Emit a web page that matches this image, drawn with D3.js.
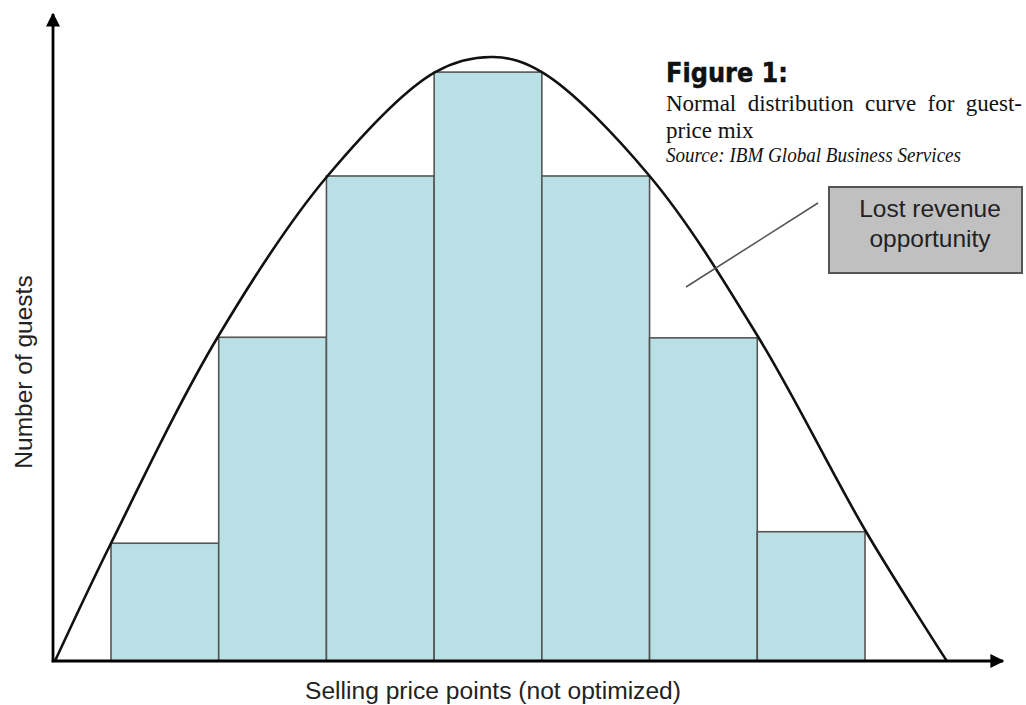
<!DOCTYPE html>
<html>
<head>
<meta charset="utf-8">
<script src="https://cdn.jsdelivr.net/npm/d3@7/dist/d3.min.js"></script>
<style>
  html, body { margin: 0; padding: 0; background: #fff; }
  svg { display: block; }
</style>
</head>
<body>
<svg id="chart" width="1026" height="705"></svg>
<script>
// ---- Data ----
const categories = ["P1", "P2", "P3", "P4", "P5", "P6", "P7"];      // selling price points
const guests     = [19.5, 53.6, 80.3, 97.5, 80.3, 53.5, 21.4];      // number of guests (relative)
// normal distribution curve (x in price-point units, y in guests)
const curveX = [-0.02, 0.50, 1.49, 2.51, 3.51, 4.05, 4.50, 5.50, 6.51, 7.51, 8.26];
const curveY = [0.0, 19.5, 53.6, 80.3, 97.5, 100, 97.5, 80.3, 53.6, 21.4, 0.0];
const xAxisLabel = "Selling price points (not optimized)";
const yAxisLabel = "Number of guests";
const titleBold = "Figure 1:";
const titleLines = ["Normal distribution curve for guest-", "price mix"];
const sourceText = "Source: IBM Global Business Services";
const calloutLines = ["Lost revenue", "opportunity"];

// ---- Layout ----
const svg = d3.select("#chart");
const x = d3.scaleLinear().domain([0.5, 7.5]).range([111, 865]);
const y = d3.scaleLinear().domain([0, 100]).range([661, 57]);
const originX = 53, originY = 661;

// defs: arrowheads
const defs = svg.append("defs");
defs.append("marker").attr("id", "arrow")
  .attr("viewBox", "0 0 10 10").attr("refX", 9).attr("refY", 5)
  .attr("markerWidth", 5).attr("markerHeight", 5).attr("markerUnits", "strokeWidth")
  .attr("orient", "auto")
  .append("path").attr("d", "M0,0 L10,5 L0,10 Z").attr("fill", "#000");

// bars
svg.append("g").selectAll("rect").data(guests).join("rect")
  .attr("x", (d, i) => x(i + 0.5))
  .attr("width", (d, i) => x(i + 1.5) - x(i + 0.5))
  .attr("y", d => y(d))
  .attr("height", d => y(0) - y(d))
  .attr("fill", "#b9e0e5")
  .attr("stroke", "#555")
  .attr("stroke-width", 1.6);

// curve
const pts = curveX.map((cx, i) => [cx, curveY[i]]);
svg.append("path")
  .datum(pts)
  .attr("d", d3.line().x(d => x(d[0])).y(d => y(d[1])).curve(d3.curveCatmullRom.alpha(0.5)))
  .attr("fill", "none")
  .attr("stroke", "#111")
  .attr("stroke-width", 2.6);

// axes
svg.append("line")
  .attr("x1", originX).attr("y1", originY + 1.3).attr("x2", originX).attr("y2", 14)
  .attr("stroke", "#000").attr("stroke-width", 2.8).attr("marker-end", "url(#arrow)");
svg.append("line")
  .attr("x1", originX - 1.3).attr("y1", originY).attr("x2", 1003).attr("y2", originY)
  .attr("stroke", "#000").attr("stroke-width", 2.8).attr("marker-end", "url(#arrow)");

// axis labels
svg.append("text")
  .attr("x", 493).attr("y", 699)
  .attr("text-anchor", "middle")
  .attr("font-family", "'Liberation Sans', Arial, sans-serif")
  .attr("font-size", 24.6)
  .attr("fill", "#222")
  .text(xAxisLabel);

svg.append("text")
  .attr("transform", "translate(32,372) rotate(-90)")
  .attr("text-anchor", "middle")
  .attr("font-family", "'Liberation Sans', Arial, sans-serif")
  .attr("font-size", 24.5)
  .attr("fill", "#222")
  .text(yAxisLabel);

// title block
svg.append("text")
  .attr("x", 666).attr("y", 82)
  .attr("font-family", "'DejaVu Sans', sans-serif")
  .attr("font-weight", "bold")
  .attr("font-size", 26)
  .attr("textLength", 122).attr("lengthAdjust", "spacingAndGlyphs")
  .attr("fill", "#111")
  .attr("stroke", "#111").attr("stroke-width", 0.5)
  .text(titleBold);

const line1 = svg.append("text")
  .attr("x", 666).attr("y", 111)
  .attr("font-family", "'Liberation Serif', 'Times New Roman', serif")
  .attr("font-size", 23)
  .attr("fill", "#111")
  .text(titleLines[0]);
// justify the first line by widening word gaps
const natural = line1.node().getComputedTextLength();
const gaps = titleLines[0].split(" ").length - 1;
line1.attr("word-spacing", Math.max(0, (356 - natural) / gaps));

svg.append("text")
  .attr("x", 666).attr("y", 138)
  .attr("font-family", "'Liberation Serif', 'Times New Roman', serif")
  .attr("font-size", 23)
  .attr("fill", "#111")
  .text(titleLines[1]);

svg.append("text")
  .attr("x", 666).attr("y", 162)
  .attr("font-family", "'Liberation Serif', 'Times New Roman', serif")
  .attr("font-style", "italic")
  .attr("font-size", 21.5)
  .attr("textLength", 295).attr("lengthAdjust", "spacingAndGlyphs")
  .attr("fill", "#111")
  .text(sourceText);

// callout
svg.append("line")
  .attr("x1", 686).attr("y1", 287).attr("x2", 818).attr("y2", 203)
  .attr("stroke", "#555").attr("stroke-width", 1.6);

svg.append("rect")
  .attr("x", 829).attr("y", 187).attr("width", 193).attr("height", 86)
  .attr("fill", "#c0c0c0")
  .attr("stroke", "#555").attr("stroke-width", 2);

svg.append("g").selectAll("text").data(calloutLines).join("text")
  .attr("x", 930).attr("y", (d, i) => 217 + i * 30)
  .attr("text-anchor", "middle")
  .attr("font-family", "'Liberation Sans', Arial, sans-serif")
  .attr("font-size", 24.5)
  .attr("fill", "#222")
  .text(d => d);
</script>
</body>
</html>
